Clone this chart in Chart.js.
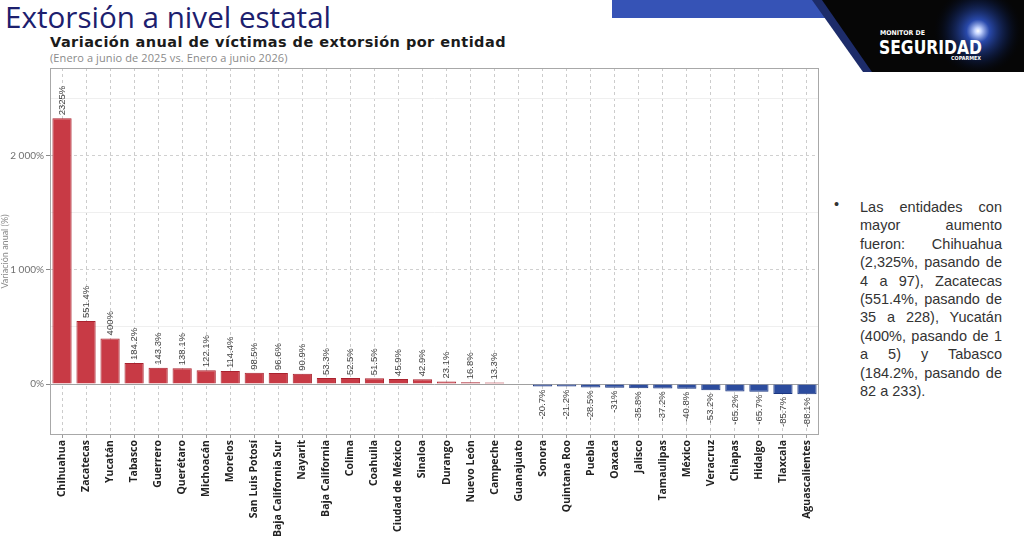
<!DOCTYPE html>
<html>
<head>
<meta charset="utf-8">
<script src="https://cdn.jsdelivr.net/npm/chart.js@4.4.1/dist/chart.umd.min.js"></script>
<style>
  html, body { margin: 0; padding: 0; background: #fff; }
  body { width: 1024px; height: 536px; position: relative; overflow: hidden; }
  #title { position: absolute; left: 5px; top: -4px; font-family: "Open Sans", sans-serif; font-size: 29.6px; color: #1c206e; white-space: nowrap; }
  #subtitle { position: absolute; left: 50px; top: 34px; font-family: "DejaVu Sans", sans-serif; font-weight: bold; font-size: 14.5px; letter-spacing: 0.45px; color: #1b1b1b; white-space: nowrap; }
  #period { position: absolute; left: 50px; top: 50px; font-family: "Open Sans", sans-serif; font-size: 11px; letter-spacing: 0.1px; color: #8a8a8a; white-space: nowrap; }
  #chartbox { position: absolute; left: 0; top: 60px; width: 830px; height: 476px; }
  #bullet { position: absolute; left: 834px; top: 196px; font-family: "Liberation Sans", Arial, sans-serif; font-size: 14.5px; color: #333; }
  #note { position: absolute; left: 860px; top: 198px; width: 142px; font-family: "Liberation Sans", Arial, sans-serif; font-size: 14.5px; line-height: 18.4px; color: #333; text-align: justify; }
  #logo { position: absolute; left: 0; top: 0; }
</style>
</head>
<body>
<svg id="logo" width="1024" height="75" viewBox="0 0 1024 75">
  <defs>
    <radialGradient id="glow" cx="978" cy="31" r="46" gradientUnits="userSpaceOnUse">
      <stop offset="0" stop-color="#ffffff"/>
      <stop offset="0.07" stop-color="#c4d4ff"/>
      <stop offset="0.25" stop-color="#2f55c8" stop-opacity="0.85"/>
      <stop offset="0.65" stop-color="#10245e" stop-opacity="0.45"/>
      <stop offset="1" stop-color="#000000" stop-opacity="0"/>
    </radialGradient>
  </defs>
  <polygon points="612,0 818,0 830,18 612,18" fill="#3653b6"/>
  <polygon points="812,0 1024,0 1024,72 863,72" fill="#1d2c6a"/>
  <polygon points="822,0 1024,0 1024,72 872,72" fill="#060606"/>
  <polygon points="822,0 1024,0 1024,72 872,72" fill="url(#glow)"/>
  <text x="880" y="35" font-family="DejaVu Sans" font-weight="bold" font-size="6.5" fill="#fff" textLength="45" lengthAdjust="spacingAndGlyphs">MONITOR DE</text>
  <text x="879" y="53.5" font-family="DejaVu Sans" font-weight="bold" font-size="19" fill="#fff" textLength="103" lengthAdjust="spacingAndGlyphs">SEGURIDAD</text>
  <text x="951" y="60" font-family="DejaVu Sans" font-weight="bold" font-size="5.5" fill="#fff" textLength="30" lengthAdjust="spacingAndGlyphs">COPARMEX</text>
</svg>
<div id="title">Extorsión a nivel estatal</div>
<div id="subtitle">Variación anual de víctimas de extorsión por entidad</div>
<div id="period">(Enero a junio de 2025 vs. Enero a junio 2026)</div>
<div id="chartbox"><canvas id="c"></canvas></div>
<div id="bullet">•</div>
<div id="note">Las entidades con mayor aumento fueron: Chihuahua (2,325%, pasando de 4 a 97), Zacatecas (551.4%, pasando de 35 a 228), Yucatán (400%, pasando de 1 a 5) y Tabasco (184.2%, pasando de 82 a 233).</div>
<script>
const categories = ["Chihuahua","Zacatecas","Yucatán","Tabasco","Guerrero","Querétaro","Michoacán","Morelos","San Luis Potosí","Baja California Sur","Nayarit","Baja California","Colima","Coahuila","Ciudad de México","Sinaloa","Durango","Nuevo León","Campeche","Guanajuato","Sonora","Quintana Roo","Puebla","Oaxaca","Jalisco","Tamaulipas","México","Veracruz","Chiapas","Hidalgo","Tlaxcala","Aguascalientes"];
const values = [2325,551.4,400,184.2,143.3,138.1,122.1,114.4,98.5,96.6,90.9,53.3,52.5,51.5,45.9,42.9,23.1,16.8,13.3,0,-20.7,-21.2,-28.5,-31,-35.8,-37.2,-40.8,-53.2,-65.2,-65.7,-85.7,-88.1];
const yTickValues = [0, 500, 1000, 1500, 2000, 2500];
const yLabeledTicks = [0, 1000, 2000];
const yMin = -445;
const yMax = 2765;

function fmtThousands(v) {
  return String(v).replace(/\B(?=(\d{3})+(?!\d))/g, ' ');
}
function isMajor(v) { return yLabeledTicks.indexOf(v) !== -1; }

const barLabels = {
  id: 'barLabels',
  afterDatasetsDraw(chart) {
    const meta = chart.getDatasetMeta(0);
    const ctx = chart.ctx;
    ctx.save();
    ctx.font = '9.5px "Liberation Sans Narrow", "Liberation Sans", Arial, sans-serif';
    ctx.fillStyle = '#444';
    ctx.textBaseline = 'middle';
    meta.data.forEach((bar, i) => {
      const v = values[i];
      if (v === 0) return;
      ctx.save();
      if (v > 0) {
        ctx.translate(bar.x, bar.y - 3);
        ctx.rotate(-Math.PI / 2);
        ctx.textAlign = 'left';
      } else {
        ctx.translate(bar.x, bar.y + 3);
        ctx.rotate(-Math.PI / 2);
        ctx.textAlign = 'right';
      }
      ctx.fillText(v + '%', 0, 0);
      ctx.restore();
    });
    ctx.restore();
  }
};

const panelBorder = {
  id: 'panelBorder',
  afterDraw(chart) {
    const a = chart.chartArea;
    const ctx = chart.ctx;
    ctx.save();
    ctx.strokeStyle = '#a8a8a8';
    ctx.lineWidth = 1;
    ctx.strokeRect(Math.round(a.left) + 0.5, Math.round(a.top) + 0.5, Math.round(a.right - a.left) - 1, Math.round(a.bottom - a.top) - 1);
    ctx.restore();
  }
};

new Chart(document.getElementById('c'), {
  type: 'bar',
  data: {
    labels: categories,
    datasets: [{
      data: values,
      backgroundColor: values.map(v => v >= 0 ? '#c83a45' : '#2c4c9e'),
      borderColor: values.map(v => v >= 0 ? '#a9222e' : '#1c3781'),
      borderWidth: 1,
      barPercentage: 0.8,
      categoryPercentage: 1.0
    }]
  },
  options: {
    responsive: true,
    maintainAspectRatio: false,
    animation: false,
    layout: { padding: { top: 6, right: 11, left: 0, bottom: 0 } },
    plugins: { legend: { display: false }, tooltip: { enabled: false } },
    scales: {
      x: {
        offset: true,
        grid: {
          offset: false,
          color: '#cccccc',
          lineWidth: 1,
          drawTicks: true,
          tickLength: 3,
          tickColor: '#9a9a9a',
          tickBorderDash: []
        },
        border: { display: false, dash: [3, 3] },
        ticks: {
          autoSkip: false,
          maxRotation: 90,
          minRotation: 90,
          padding: 2,
          color: '#222',
          font: { family: '"Open Sans", sans-serif', weight: '700', size: 10.5 }
        },
        afterFit(scale) { scale.height = 101; }
      },
      y: {
        min: yMin,
        max: yMax,
        afterBuildTicks(scale) {
          scale.ticks = yTickValues.map(v => ({ value: v }));
        },
        grid: {
          color: (c) => {
            const v = c.tick ? c.tick.value : null;
            if (v === 0) return '#a0a0a0';
            if (isMajor(v)) return '#d0d0d0';
            return '#efefef';
          },
          lineWidth: 1,
          drawTicks: true,
          tickLength: 4,
          tickColor: (c) => c.tick && isMajor(c.tick.value) ? '#8a8a8a' : 'rgba(0,0,0,0)',
          tickBorderDash: []
        },
        border: {
          display: false,
          dash: (c) => c.tick && c.tick.value !== 0 && isMajor(c.tick.value) ? [3, 3] : []
        },
        ticks: {
          autoSkip: false,
          padding: 2,
          color: '#707070',
          font: { family: 'Lato, sans-serif', size: 10 },
          callback: (v) => isMajor(v) ? fmtThousands(v) + '%' : ''
        },
        title: {
          display: true,
          text: 'Variación anual (%)',
          color: '#8a8a8a',
          padding: 0,
          font: { family: 'Lato, sans-serif', size: 9 }
        },
        afterFit(scale) { scale.width = 50; }
      }
    }
  },
  plugins: [barLabels, panelBorder]
});
</script>
</body>
</html>
